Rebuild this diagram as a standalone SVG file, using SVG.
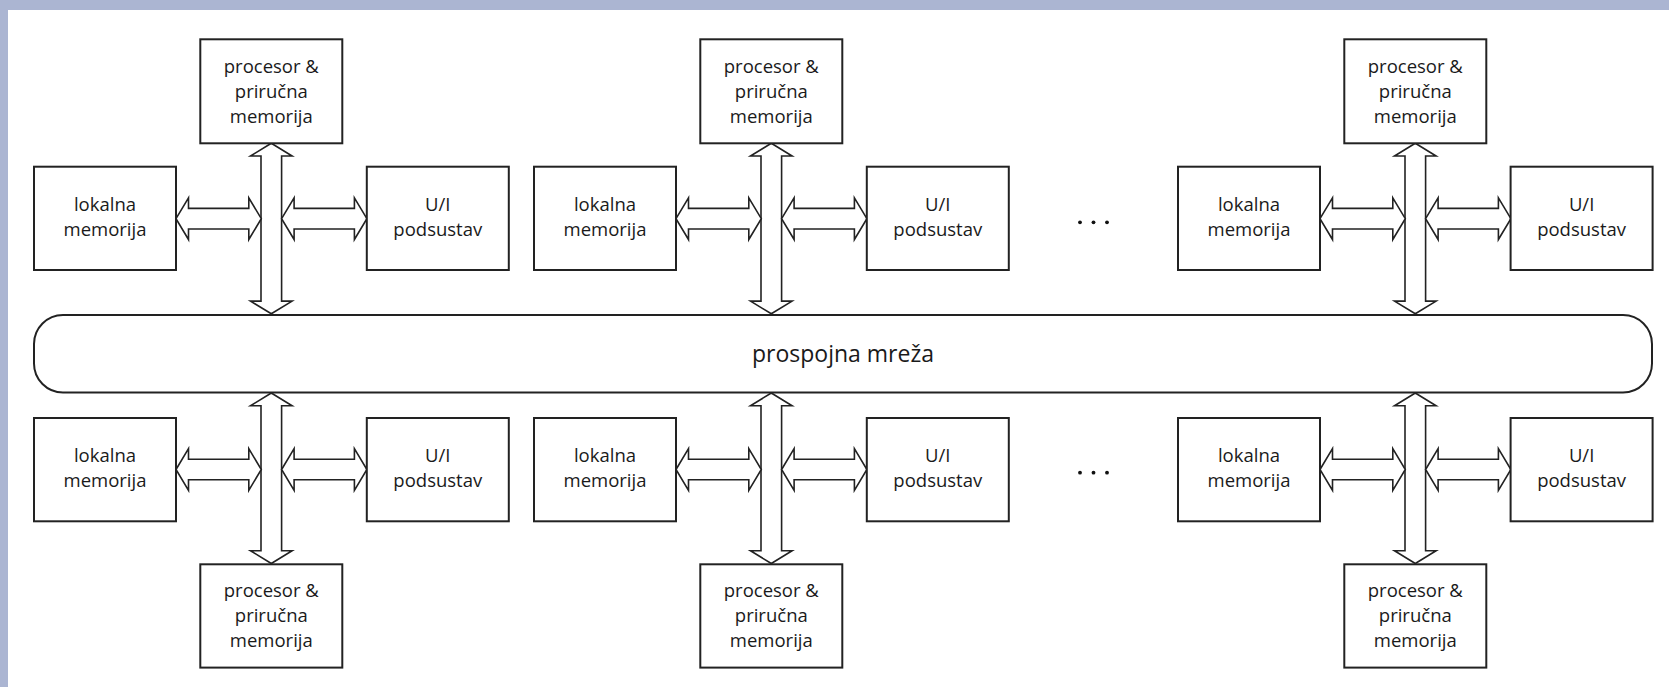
<svg xmlns="http://www.w3.org/2000/svg" xmlns:xlink="http://www.w3.org/1999/xlink" width="1669" height="687" viewBox="0 0 1669 687">
<style>
.box{fill:#fff;stroke:#222;stroke-width:2}
.arr{fill:#fff;stroke:#222;stroke-width:1.6;stroke-linejoin:miter}
.t{font-family:"Open Sans","Liberation Sans",sans-serif;font-size:18.5px;fill:#1a1a1a;text-anchor:middle}
.tc{font-family:"Open Sans","Liberation Sans",sans-serif;font-size:23px;fill:#1a1a1a;text-anchor:middle}
.dot{fill:#111}
</style>
<defs>
<polygon id="va" points="0,0 20.8,12.7 10.3,12.7 10.3,157.8 20.8,157.8 0,170.5 -20.8,157.8 -10.3,157.8 -10.3,12.7 -20.8,12.7"/>
<polygon id="ha" points="0,0 12.5,-20.8 12.5,-10.3 72.8,-10.3 72.8,-20.8 85.3,0 72.8,20.8 72.8,10.3 12.5,10.3 12.5,20.8"/>
</defs>
<rect x="0" y="0" width="1669" height="687" fill="#fff"/>
<rect x="0" y="0" width="1669" height="10" fill="#abb5d2"/>
<rect x="0" y="0" width="8" height="687" fill="#abb5d2"/>

<g id="network">
<rect class="box" x="34" y="315" width="1618" height="77.5" rx="29" ry="29"/>
<text class="tc" x="843" y="361.5">prospojna mreža</text>
</g>

<g id="connectors">
<use href="#va" class="arr" x="271.3" y="143.3"/>
<use href="#va" class="arr" x="271.3" y="393"/>
<use href="#ha" class="arr" x="176" y="218.7"/>
<use href="#ha" class="arr" x="281.6" y="218.7"/>
<use href="#ha" class="arr" x="176" y="469.5"/>
<use href="#ha" class="arr" x="281.6" y="469.5"/>

<use href="#va" class="arr" x="771.3" y="143.3"/>
<use href="#va" class="arr" x="771.3" y="393"/>
<use href="#ha" class="arr" x="676" y="218.7"/>
<use href="#ha" class="arr" x="781.6" y="218.7"/>
<use href="#ha" class="arr" x="676" y="469.5"/>
<use href="#ha" class="arr" x="781.6" y="469.5"/>

<use href="#va" class="arr" x="1415.3" y="143.3"/>
<use href="#va" class="arr" x="1415.3" y="393"/>
<use href="#ha" class="arr" x="1320" y="218.7"/>
<use href="#ha" class="arr" x="1425.6" y="218.7"/>
<use href="#ha" class="arr" x="1320" y="469.5"/>
<use href="#ha" class="arr" x="1425.6" y="469.5"/>
</g>

<!-- Group 1 -->
<g id="proc-top-1"><rect class="box" x="200.3" y="39.3" width="142" height="104"/>
<text class="t" x="271.3" y="72.7">procesor &amp;</text><text class="t" x="271.3" y="97.7">priručna</text><text class="t" x="271.3" y="122.7">memorija</text></g>
<g id="lok-top-1"><rect class="box" x="34" y="166.7" width="142" height="103.3"/>
<text class="t" x="105" y="210.7">lokalna</text><text class="t" x="105" y="235.7">memorija</text></g>
<g id="ui-top-1"><rect class="box" x="366.8" y="166.7" width="142" height="103.3"/>
<text class="t" x="437.8" y="211">U/I</text><text class="t" x="437.8" y="236">podsustav</text></g>
<g id="lok-bot-1"><rect class="box" x="34" y="418" width="142" height="103.3"/>
<text class="t" x="105" y="462.3">lokalna</text><text class="t" x="105" y="487.3">memorija</text></g>
<g id="ui-bot-1"><rect class="box" x="366.8" y="418" width="142" height="103.3"/>
<text class="t" x="437.8" y="462">U/I</text><text class="t" x="437.8" y="487.3">podsustav</text></g>
<g id="proc-bot-1"><rect class="box" x="200.3" y="564.3" width="142" height="103.3"/>
<text class="t" x="271.3" y="596.7">procesor &amp;</text><text class="t" x="271.3" y="621.7">priručna</text><text class="t" x="271.3" y="646.7">memorija</text></g>

<!-- Group 2 -->
<g id="proc-top-2"><rect class="box" x="700.3" y="39.3" width="142" height="104"/>
<text class="t" x="771.3" y="72.7">procesor &amp;</text><text class="t" x="771.3" y="97.7">priručna</text><text class="t" x="771.3" y="122.7">memorija</text></g>
<g id="lok-top-2"><rect class="box" x="534" y="166.7" width="142" height="103.3"/>
<text class="t" x="605" y="210.7">lokalna</text><text class="t" x="605" y="235.7">memorija</text></g>
<g id="ui-top-2"><rect class="box" x="866.8" y="166.7" width="142" height="103.3"/>
<text class="t" x="937.8" y="211">U/I</text><text class="t" x="937.8" y="236">podsustav</text></g>
<g id="lok-bot-2"><rect class="box" x="534" y="418" width="142" height="103.3"/>
<text class="t" x="605" y="462.3">lokalna</text><text class="t" x="605" y="487.3">memorija</text></g>
<g id="ui-bot-2"><rect class="box" x="866.8" y="418" width="142" height="103.3"/>
<text class="t" x="937.8" y="462">U/I</text><text class="t" x="937.8" y="487.3">podsustav</text></g>
<g id="proc-bot-2"><rect class="box" x="700.3" y="564.3" width="142" height="103.3"/>
<text class="t" x="771.3" y="596.7">procesor &amp;</text><text class="t" x="771.3" y="621.7">priručna</text><text class="t" x="771.3" y="646.7">memorija</text></g>

<!-- Group 3 -->
<g id="proc-top-3"><rect class="box" x="1344.3" y="39.3" width="142" height="104"/>
<text class="t" x="1415.3" y="72.7">procesor &amp;</text><text class="t" x="1415.3" y="97.7">priručna</text><text class="t" x="1415.3" y="122.7">memorija</text></g>
<g id="lok-top-3"><rect class="box" x="1178" y="166.7" width="142" height="103.3"/>
<text class="t" x="1249" y="210.7">lokalna</text><text class="t" x="1249" y="235.7">memorija</text></g>
<g id="ui-top-3"><rect class="box" x="1510.6" y="166.7" width="142" height="103.3"/>
<text class="t" x="1581.6" y="211">U/I</text><text class="t" x="1581.6" y="236">podsustav</text></g>
<g id="lok-bot-3"><rect class="box" x="1178" y="418" width="142" height="103.3"/>
<text class="t" x="1249" y="462.3">lokalna</text><text class="t" x="1249" y="487.3">memorija</text></g>
<g id="ui-bot-3"><rect class="box" x="1510.6" y="418" width="142" height="103.3"/>
<text class="t" x="1581.6" y="462">U/I</text><text class="t" x="1581.6" y="487.3">podsustav</text></g>
<g id="proc-bot-3"><rect class="box" x="1344.3" y="564.3" width="142" height="103.3"/>
<text class="t" x="1415.3" y="596.7">procesor &amp;</text><text class="t" x="1415.3" y="621.7">priručna</text><text class="t" x="1415.3" y="646.7">memorija</text></g>

<g id="ellipsis-top">
<circle class="dot" cx="1080" cy="222.3" r="1.9"/><circle class="dot" cx="1093.5" cy="222.3" r="1.9"/><circle class="dot" cx="1107" cy="222.3" r="1.9"/>
</g>
<g id="ellipsis-bottom">
<circle class="dot" cx="1080" cy="472.7" r="1.9"/><circle class="dot" cx="1093.5" cy="472.7" r="1.9"/><circle class="dot" cx="1107" cy="472.7" r="1.9"/>
</g>
</svg>
